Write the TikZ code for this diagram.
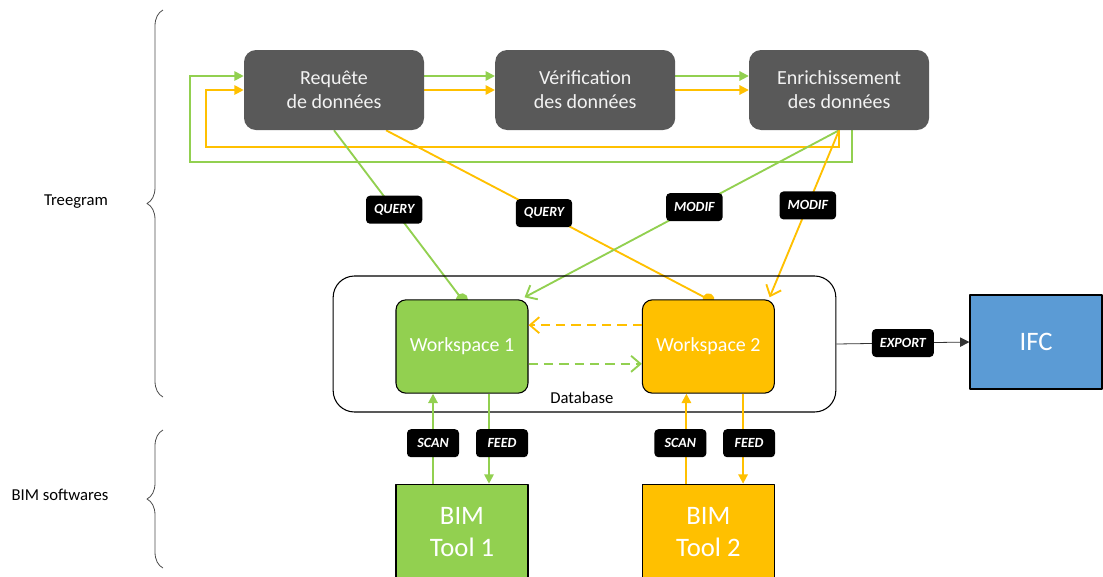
\documentclass[tikz,border=0pt]{standalone}
\usepackage{fontspec}
\setmainfont{Carlito}
\usepackage{tikz}
\usetikzlibrary{arrows.meta, positioning, calc, backgrounds, decorations.pathreplacing}

\definecolor{tgreen}{HTML}{92D050}
\definecolor{torange}{HTML}{FFC000}
\definecolor{tgrey}{HTML}{595959}
\definecolor{tblue}{HTML}{5B9BD5}

\begin{document}
\begin{tikzpicture}[x=0.75pt, y=-0.75pt, line join=round]
    \tikzset{
        process/.style={rectangle, fill=tgrey, rounded corners=9pt, minimum width=135pt, minimum height=60pt, align=center, text=white!95!black, font=\fontsize{15}{18}\selectfont},
        container/.style={rectangle, draw=black, line width=0.8pt, rounded corners=16pt, minimum width=377pt, minimum height=102pt},
        workspace/.style={rectangle, draw=black, line width=0.8pt, rounded corners=7.5pt, minimum width=99pt, minimum height=70pt, text=white, font=\fontsize{15}{18}\selectfont},
        software/.style={rectangle, draw=black, line width=0.9pt, minimum width=99pt, minimum height=71pt, align=center, text=white, font=\fontsize{20}{24}\selectfont},
        tag/.style={rectangle, fill=black, rounded corners=3pt, text=white, font=\fontsize{10.5}{12}\selectfont\bfseries\itshape, minimum width=39pt, minimum height=21pt, inner xsep=6pt, inner ysep=0pt},
        caption/.style={font=\fontsize{12.5}{15}\selectfont},
        gline/.style={draw=tgreen, line width=1.4pt},
        oline/.style={draw=torange, line width=1.4pt},
        fill arrow/.style={-{Triangle[length=7pt, width=7pt]}},
        open arrow/.style={-{Straight Barb[length=7pt, width=12pt]}},
        ball/.style={-{Circle[length=9pt]}, shorten >=-4.5pt},
        flow dash/.style={dash pattern=on 7pt off 4.5pt},
        brace/.style={decorate, decoration={brace, amplitude=12pt}, draw=black!70, line width=0.6pt}
    }
    \useasboundingbox (0,0) rectangle (1103,576);

    % Treegram steps
    \node (Requete) [process] at (334,90) {Requête\\de données};
    \node (Verif) [process, right=53pt of Requete] {Vérification\\des données};
    \node (Enrich) [process, right=55pt of Verif] {Enrichissement\\des données};

    % database and workspaces
    \node (Database) [container] at (584.5,344) {};
    \node (WSOne) [workspace, fill=tgreen] at (462,346.5) {Workspace 1};
    \node (WSTwo) [workspace, fill=torange, right=85pt of WSOne] {Workspace 2};
    \node (DBLabel) [caption, above=3pt of Database.south, xshift=-2pt] {Database};

    % BIM softwares and export
    \node (ToolOne) [software, fill=tgreen, below=67.5pt of WSOne] {BIM\\Tool 1};
    \node (ToolTwo) [software, fill=torange, below=67.5pt of WSTwo] {BIM\\Tool 2};
    \node (IFC) [software, fill=tblue, minimum height=70.5pt] at (1036,342) {IFC};

    % left braces
    \draw [brace] (163,397) -- (163,10);
    \draw [brace] (163,568) -- (163,430);
    \node (Treegram) [caption] at (76,202) {Treegram};
    \node (BIMSoft) [caption] at (60,495) {BIM softwares};

    \begin{scope}[on background layer]
        \draw [gline, fill arrow] ([yshift=10.5pt]Requete.east) -- ([yshift=10.5pt]Verif.west);
        \draw [oline, fill arrow] (Requete.east) -- (Verif.west);
        \draw [gline, fill arrow] ([yshift=10.5pt]Verif.east) -- ([yshift=10.5pt]Enrich.west);
        \draw [oline, fill arrow] (Verif.east) -- (Enrich.west);
        % loops back to the request
        \draw [gline, fill arrow] ([xshift=10pt]Enrich.south) -- ++(0,-24pt) -| ([xshift=-40pt, yshift=10.5pt]Requete.west) -- ([yshift=10.5pt]Requete.west);
        \draw [oline, fill arrow] (Enrich.south) -- ++(0,-12.75pt) -| ([xshift=-28.5pt]Requete.west) -- (Requete.west);
        % queries and modifications
        \draw [gline, ball] (Requete.south) -- node [tag, pos=0.47] {QUERY} (WSOne.north);
        \draw [oline, ball] ([xshift=39pt]Requete.south) -- node [tag, pos=0.49] {QUERY} (WSTwo.north);
        \draw [gline, open arrow] (Enrich.south) -- node [tag, pos=0.46] {MODIF} ([xshift=-3pt, yshift=1.5pt]WSOne.north east);
        \draw [oline, open arrow] (Enrich.south) -- node [tag, pos=0.45] {MODIF} ([xshift=-4pt, yshift=1.5pt]WSTwo.north east);
    \end{scope}

    % exchanges between workspaces
    \draw [oline, flow dash, open arrow] ([yshift=16pt]WSTwo.west) -- ([yshift=16pt]WSOne.east);
    \draw [gline, flow dash, open arrow] ([yshift=-13pt]WSOne.east) -- ([yshift=-13pt]WSTwo.west);

    % scan and feed
    \draw [gline, fill arrow] ([xshift=-21.75pt]ToolOne.north) -- node [tag, pos=0.45] {SCAN} ([xshift=-21.75pt]WSOne.south);
    \draw [gline, fill arrow] ([xshift=20.25pt]WSOne.south) -- node [tag, pos=0.55, xshift=9.75pt] {FEED} ([xshift=20.25pt]ToolOne.north);
    \draw [oline, fill arrow] ([xshift=-16.5pt]ToolTwo.north) -- node [tag, pos=0.45, xshift=-4.5pt] {SCAN} ([xshift=-16.5pt]WSTwo.south);
    \draw [oline, fill arrow] ([xshift=26pt]WSTwo.south) -- node [tag, pos=0.55, xshift=4.5pt] {FEED} ([xshift=26pt]ToolTwo.north);

    % export
    \draw [draw=black!80, line width=0.6pt, fill arrow] (Database.east) -- node [tag] {EXPORT} (IFC.west);
\end{tikzpicture}
\end{document}
